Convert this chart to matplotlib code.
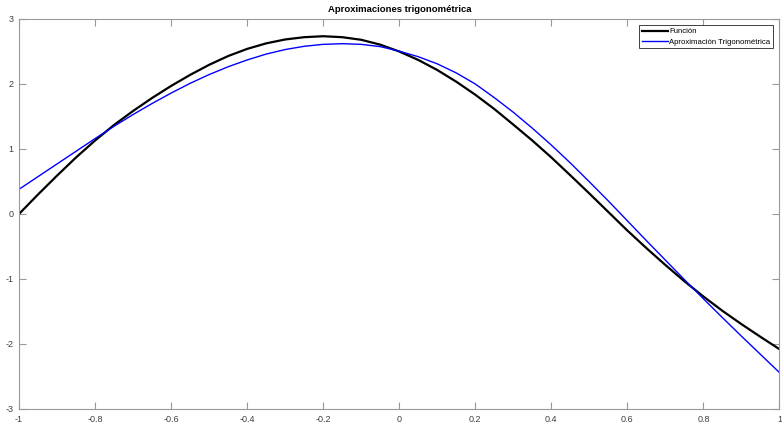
import matplotlib
matplotlib.use("Agg")
import matplotlib.pyplot as plt
from matplotlib.ticker import FormatStrFormatter

# valores
x = [-1.00, -0.95, -0.90, -0.85, -0.80, -0.75, -0.70, -0.65, -0.60, -0.55,
     -0.50, -0.45, -0.40, -0.35, -0.30, -0.25, -0.20, -0.15, -0.10, -0.05,
     0.00, 0.05, 0.10, 0.15, 0.20, 0.25, 0.30, 0.35, 0.40, 0.45,
     0.50, 0.55, 0.60, 0.65, 0.70, 0.75, 0.80, 0.85, 0.90, 0.95, 1.00]

funcion = [0.00, 0.30, 0.59, 0.87, 1.13, 1.37, 1.585, 1.785, 1.97, 2.14,
           2.295, 2.43, 2.54, 2.625, 2.685, 2.72, 2.735, 2.72, 2.68, 2.605,
           2.50, 2.37, 2.215, 2.035, 1.835, 1.615, 1.375, 1.13, 0.87, 0.595,
           0.315, 0.03, -0.255, -0.525, -0.785, -1.035, -1.27, -1.49, -1.695, -1.89, -2.08]

aprox = [0.38, 0.575, 0.77, 0.965, 1.16, 1.35, 1.53, 1.70, 1.86, 2.01,
         2.145, 2.265, 2.37, 2.46, 2.53, 2.58, 2.61, 2.62, 2.61, 2.575,
         2.505, 2.42, 2.31, 2.17, 2.00, 1.79, 1.565, 1.32, 1.06, 0.785,
         0.495, 0.20, -0.105, -0.41, -0.71, -1.01, -1.305, -1.595, -1.88, -2.16, -2.44]

xticks = [-1, -0.8, -0.6, -0.4, -0.2, 0, 0.2, 0.4, 0.6, 0.8, 1]
yticks = [-3, -2, -1, 0, 1, 2, 3]

plt.rcParams['font.family'] = ['Liberation Sans', 'DejaVu Sans']
plt.rcParams['axes.unicode_minus'] = False

fig = plt.figure(figsize=(7.82, 4.23), dpi=100)
ax = fig.add_axes([0.0243, 0.0331, 0.9725, 0.922])

ax.plot(x, funcion, color='black', lw=1.6, label='Función', solid_joinstyle='round')
ax.plot(x, aprox, color='blue', lw=1.0, label='Aproximación Trigonométrica', solid_joinstyle='round')

ax.set_xlim(-1, 1)
ax.set_ylim(-3, 3)
ax.set_xticks(xticks)
ax.set_yticks(yticks)
ax.xaxis.set_major_formatter(FormatStrFormatter('%g'))
ax.yaxis.set_major_formatter(FormatStrFormatter('%g'))

gris = '#999999'
for s in ax.spines.values():
    s.set_color(gris)
    s.set_linewidth(0.8)
ax.tick_params(direction='in', top=True, right=True, length=5, width=0.8,
               color=gris, labelcolor='#404040', labelsize=6.5, pad=4)

ax.set_title('Aproximaciones trigonométrica', fontsize=6.8, fontweight='bold', pad=5)

leg = ax.legend(loc='upper right', fontsize=5.6, handlelength=3.4, handletextpad=0.15,
                borderpad=0.35, labelspacing=0.35, borderaxespad=0.8,
                fancybox=False, framealpha=1, edgecolor='#404040')
leg.get_frame().set_linewidth(0.7)

fig.savefig('out.png', dpi=100)
